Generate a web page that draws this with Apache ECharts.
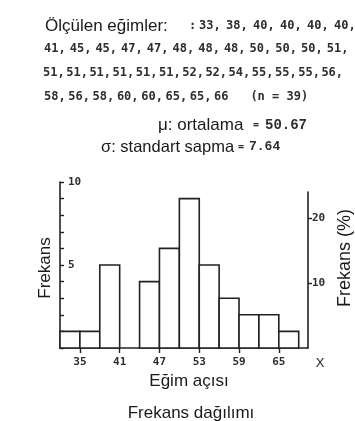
<!DOCTYPE html>
<html><head><meta charset="utf-8">
<script src="https://cdn.jsdelivr.net/npm/echarts@6/dist/echarts.min.js"></script>
<style>html,body{margin:0;padding:0;background:#fff}#c{width:355px;height:421px}</style>
</head><body><div id="c"></div>
<script>
// ---- data ----
const measuredLine1 = [33, 38, 40, 40, 40, 40];
const measuredLine2 = [41, 45, 45, 47, 47, 48, 48, 48, 50, 50, 50, 51];
const measuredLine3 = [51, 51, 51, 51, 51, 51, 52, 52, 54, 55, 55, 55, 56];
const measuredLine4 = [58, 56, 58, 60, 60, 65, 65, 66];
const sampleSize = 39;
const meanText = '50.67';
const stdText = '7.64';

const binStarts = [32, 35, 38, 41, 44, 47, 50, 53, 56, 59, 62, 65];
const binWidth = 3;
const binCounts = [1, 1, 5, 0, 4, 6, 9, 5, 3, 2, 2, 1];

const xTickLabels = [35, 41, 47, 53, 59, 65];
const leftTickLabels = [5, 10];
const rightTickLabels = [10, 20];
const rightAxisTopCount = 9.4; // where the right (percent) axis line ends, in counts

// ---- build ----
const histData = binStarts.map((s, i) => [s, s + binWidth, binCounts[i]]);
const xMin = 32, xMax = 69.4;

const ink = '#222222';
const numFont = 'DejaVu Sans Mono';
const sans = 'Liberation Sans';

function numRich(w) {
  return { width: w, fontFamily: numFont, fontWeight: 'bold', fontSize: 12, fill: '#2e2e2e' };
}
function line(values) { return values.map(v => '{n|' + v + ',}').join(''); }

const chart = echarts.init(document.getElementById('c'), null, { renderer: 'canvas' });
chart.setOption({
  backgroundColor: '#ffffff',
  animation: false,
  grid: [
    { left: 60, right: 47, top: 182, bottom: 73 },
    { left: 60, right: 47, top: 192, bottom: 73 }
  ],
  xAxis: [
    {
      type: 'value', gridIndex: 0, min: xMin, max: xMax,
      splitLine: { show: false },
      axisLine: { show: true, lineStyle: { color: ink, width: 1.6 } },
      axisTick: { show: true, customValues: xTickLabels, length: 5, lineStyle: { color: ink, width: 1.4 } },
      axisLabel: { customValues: xTickLabels, margin: 9, fontFamily: numFont, fontWeight: 'bold', fontSize: 11, color: '#2e2e2e' }
    },
    { type: 'value', gridIndex: 1, min: xMin, max: xMax, show: false }
  ],
  yAxis: [
    {
      type: 'value', gridIndex: 0, min: 0, max: 10, interval: 1,
      splitLine: { show: false },
      axisLine: { show: true, lineStyle: { color: ink, width: 1.6 } },
      axisTick: { show: true, inside: true, length: 4, lineStyle: { color: ink, width: 1.4 } },
      axisLabel: { inside: true, customValues: leftTickLabels, margin: 8, fontFamily: numFont, fontWeight: 'bold', fontSize: 11, color: '#2e2e2e' }
    },
    {
      type: 'value', gridIndex: 1, position: 'right', min: 0,
      max: rightAxisTopCount / sampleSize * 100,
      splitLine: { show: false },
      axisLine: { show: true, lineStyle: { color: ink, width: 1.6 } },
      axisTick: { show: true, customValues: rightTickLabels, length: 4, lineStyle: { color: ink, width: 1.4 } },
      axisLabel: { customValues: rightTickLabels, margin: 4, fontFamily: numFont, fontWeight: 'bold', fontSize: 11, color: '#2e2e2e' }
    }
  ],
  series: [{
    type: 'custom', xAxisIndex: 0, yAxisIndex: 0,
    data: histData,
    encode: { x: [0, 1], y: 2 },
    renderItem: function (params, api) {
      const x0 = api.value(0), x1 = api.value(1), c = api.value(2);
      if (!c) return null;
      const p0 = api.coord([x0, c]);
      const p1 = api.coord([x1, 0]);
      return {
        type: 'rect',
        shape: { x: p0[0], y: p0[1], width: p1[0] - p0[0], height: p1[1] - p0[1] },
        style: { fill: '#ffffff', stroke: ink, lineWidth: 1.6 }
      };
    }
  }],
  graphic: [
    { type: 'text', x: 45, y: 26, style: { text: 'Ölçülen eğimler:', fontFamily: sans, fontSize: 17, fill: '#1a1a1a', verticalAlign: 'middle' } },
    { type: 'text', x: 189, y: 26, style: { text: '{c|:}' + line(measuredLine1), verticalAlign: 'middle',
        rich: { c: numRich(10), n: numRich(27) } } },
    { type: 'text', x: 44, y: 49, style: { text: line(measuredLine2), verticalAlign: 'middle', rich: { n: numRich(25.7) } } },
    { type: 'text', x: 43, y: 73, style: { text: line(measuredLine3), verticalAlign: 'middle', rich: { n: numRich(23.2) } } },
    { type: 'text', x: 44, y: 97, style: { text: measuredLine4.map((v, i) => '{n|' + v + (i < measuredLine4.length - 1 ? ',' : '') + '}').join('') + '{g| }{t|(n = ' + sampleSize + ')}',
        verticalAlign: 'middle', rich: { n: numRich(24.3), g: numRich(12), t: numRich(null) } } },
    { type: 'text', x: 158, y: 125, style: { text: '{a|μ: ortalama}{e|=}{v|' + meanText + '}', verticalAlign: 'middle',
        rich: { a: { width: 95, fontFamily: sans, fontSize: 17, fill: '#1a1a1a' },
                e: { width: 12, fontFamily: numFont, fontWeight: 'bold', fontSize: 10, fill: '#2e2e2e' },
                v: { fontFamily: 'Liberation Mono', fontWeight: 'bold', fontSize: 14, fill: '#2e2e2e' } } } },
    { type: 'text', x: 101, y: 147, style: { text: '{a|σ: standart sapma}{e|=}{v|' + stdText + '}', verticalAlign: 'middle',
        rich: { a: { width: 137, fontFamily: sans, fontSize: 16.5, fill: '#1a1a1a' },
                e: { width: 11, fontFamily: numFont, fontWeight: 'bold', fontSize: 10, fill: '#2e2e2e' },
                v: { fontFamily: 'Liberation Mono', fontWeight: 'bold', fontSize: 13, fill: '#2e2e2e' } } } },
    { type: 'text', x: 45, y: 268, rotation: Math.PI / 2, style: { text: 'Frekans', fontFamily: sans, fontSize: 17, fill: '#1a1a1a', align: 'center', verticalAlign: 'middle' } },
    { type: 'text', x: 345, y: 258, rotation: Math.PI / 2, style: { text: 'Frekans (%)', fontFamily: sans, fontSize: 18, fill: '#1a1a1a', align: 'center', verticalAlign: 'middle' } },
    { type: 'text', x: 189, y: 381, style: { text: 'Eğim açısı', fontFamily: sans, fontSize: 17, fill: '#1a1a1a', align: 'center', verticalAlign: 'middle' } },
    { type: 'text', x: 191, y: 413, style: { text: 'Frekans dağılımı', fontFamily: sans, fontSize: 17, fill: '#1a1a1a', align: 'center', verticalAlign: 'middle' } },
    { type: 'text', x: 320, y: 363, style: { text: 'X', fontFamily: sans, fontSize: 13, fill: '#222222', align: 'center', verticalAlign: 'middle' } }
  ]
});
</script>
</body></html>
